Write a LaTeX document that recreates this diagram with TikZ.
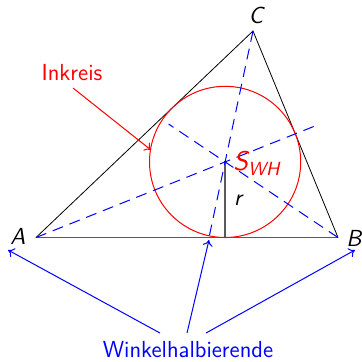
\documentclass[tikz,border=0pt]{standalone}
\usepackage{amsmath}
\usetikzlibrary{calc,arrows.meta}
\tikzset{
  tri/.style={draw=black,line width=0.4pt},
  base/.style={draw=black!65,line width=0.7pt},
  bis/.style={draw=blue,line width=0.5pt,dash pattern=on 5.5pt off 3.5pt},
  incircle/.style={draw=red,line width=0.5pt},
  lbl/.style={inner sep=0pt,font=\fontsize{11.6}{13}\selectfont\sffamily},
  pt/.style={lbl,font=\fontsize{11.6}{13}\selectfont\sffamily\itshape},
  bluearrow/.style={draw=blue,line width=0.5pt,-{To[length=3pt,width=5pt]}},
  redarrow/.style={draw=red,line width=0.5pt,-{To[length=3pt,width=5pt]}}
}
\begin{document}
\begin{tikzpicture}[x=0.5pt,y=-0.5pt]
\useasboundingbox (0,0) rectangle (362,361);
\coordinate (A) at (36,237.5);
\coordinate (B) at (338,237.5);
\coordinate (C) at (253,31);
\coordinate (S) at (225.1,161.9);
\coordinate (F) at (225.1,237.5);
\coordinate (Ae) at ($(A)!1.5!(S)$);
\coordinate (Be) at ($(B)!1.5!(S)$);
\coordinate (Ce) at ($(C)!1.5775!(S)$);
% triangle
\draw[tri] (A) -- (C) -- (B);
\draw[base] (A) -- (B);
\draw[base] (S) -- (F);
% incircle
\draw[incircle] (S) circle[radius=75.6];
% bisectors
\draw[bis] (A) -- (Ae);
\draw[bis] (B) -- (Be);
\draw[bis] (C) -- (Ce);
% labels
\node[pt] (lA) at (18,236) {A};
\node[pt] (lB) at (354,238) {B};
\node[pt] (lC) at (256,15) {C};
\node[pt,text=black] (lr) at (238,200) {r};
\node[pt,text=red,anchor=west,font=\fontsize{13.5}{15}\selectfont\sffamily\itshape] (lS) at (233,163) {S\raisebox{-0.4ex}{\fontsize{9.5}{10}\selectfont WH}};
\node[lbl,text=red] (ink) at (72,73) {Inkreis};
\node[lbl,text=blue] (wh) at (188,350) {Winkelhalbierende};
% pointer arrows
\coordinate (inkS) at (73,88);
\coordinate (inkE) at (151,150);
\draw[redarrow] (inkS) -- (inkE);
\coordinate (w1) at (160,333);
\coordinate (w2) at (187,333);
\coordinate (w3) at (206,333);
\coordinate (t1) at (8,250);
\coordinate (t2) at (209,240);
\coordinate (t3) at (355,250);
\draw[bluearrow] (w1) -- (t1);
\draw[bluearrow] (w2) -- (t2);
\draw[bluearrow] (w3) -- (t3);
\end{tikzpicture}
\end{document}
